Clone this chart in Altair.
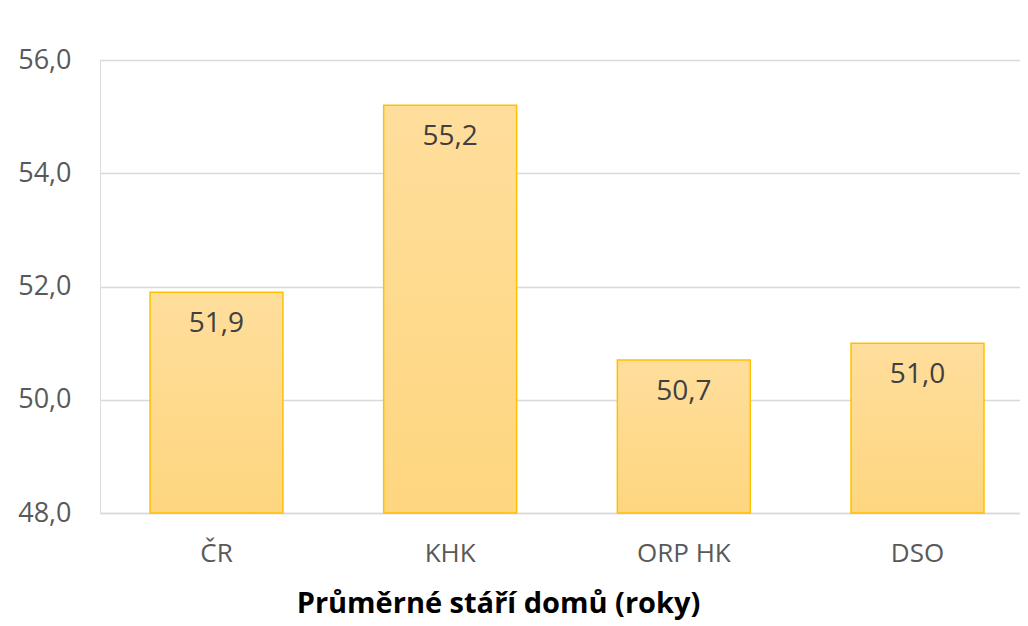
import altair as alt
import pandas as pd

categories = ["ČR", "KHK", "ORP HK", "DSO"]
values = [51.9, 55.2, 50.7, 51.0]
y_ticks = [48, 50, 52, 54, 56]

df = pd.DataFrame({"kat": categories, "val": values})

FONT = "Open Sans"

base = alt.Chart(df).encode(
    x=alt.X(
        "kat:N",
        sort=categories,
        scale=alt.Scale(paddingInner=0.431, paddingOuter=0.214, range=[0, 934]),
        axis=alt.Axis(
            title="Průměrné stáří domů (roky)",
            titleFont=FONT,
            titleFontSize=29,
            titleFontWeight="bold",
            titleColor="#000000",
            titleX=398,
            titleY=90,
            titleAlign="center",
            titleBaseline="middle",
            labelFont=FONT,
            labelFontSize=26,
            labelColor="#595959",
            labelAngle=0,
            labelPadding=27,
            ticks=False,
            domainColor="#D9D9D9",
            domainWidth=1.5,
        ),
    ),
)

bars = base.mark_bar(
    stroke="#FFC000",
    strokeWidth=1.5,
    color=alt.Gradient(
        gradient="linear",
        stops=[
            alt.GradientStop(color="#FFDE9C", offset=0),
            alt.GradientStop(color="#FED67F", offset=1),
        ],
        x1=0, x2=0, y1=0, y2=1,
    ),
).encode(
    y=alt.Y(
        "val:Q",
        scale=alt.Scale(domain=[48, 56], zero=False, nice=False),
        axis=alt.Axis(
            title=None,
            values=y_ticks,
            labelExpr="replace(format(datum.value, '.1f'), '.', ',')",
            labelFont=FONT,
            labelFontSize=27,
            labelColor="#595959",
            labelPadding=29,
            ticks=False,
            domain=False,
            gridColor="#D9D9D9",
            gridWidth=1.5,
        ),
    ),
    y2=alt.datum(48),
)

labels = base.mark_text(
    font=FONT, fontSize=28, color="#404040", baseline="middle", dy=32
).transform_calculate(
    lab="replace(format(datum.val, '.1f'), '.', ',')"
).encode(
    y=alt.Y("val:Q"),
    text="lab:N",
)

chart = (
    alt.layer(bars, labels)
    .properties(
        width=920,
        height=453,
        autosize=alt.AutoSizeParams(type="none"),
        padding={"left": 92, "top": 52, "right": 0, "bottom": 110},
    )
    .configure_view(stroke=None)
    .configure(background="white")
)

chart.save("out.html", embed_options={"renderer": "svg", "actions": False})
